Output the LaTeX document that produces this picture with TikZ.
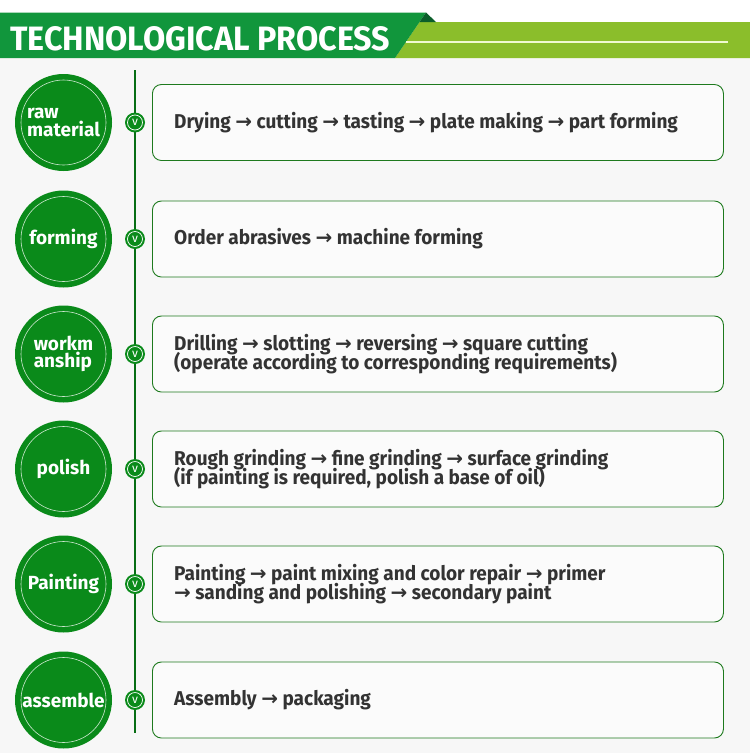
\documentclass[tikz,border=0pt]{standalone}
\usepackage{fontspec}
\setmainfont{Fira Sans}
\newfontfamily\bodyfont[FakeStretch=0.95]{Fira Sans}
\newfontfamily\arrfont{DejaVu Sans}
\newcommand\ra{{\arrfont →}}
\newcommand\tightlines{\lineskiplimit=-20pt\relax}
\definecolor{bg}{HTML}{F7F7F7}
\definecolor{darkg}{HTML}{11963C}
\definecolor{lightg}{HTML}{8BBE2B}
\definecolor{foldg}{HTML}{0B5E2A}
\definecolor{lineg}{HTML}{F0FAD0}
\definecolor{circg}{HTML}{0A8A1A}
\definecolor{boxg}{HTML}{1E7A1E}
\definecolor{txt}{HTML}{333333}
\tikzset{
  bigcirc/.style={circle, fill=circg, minimum size=97pt, inner sep=0pt},
  innerring/.style={circle, draw=white!80!circg, line width=0.6pt, minimum size=85pt, inner sep=0pt},
  lbl/.style={text=white, font=\bfseries\fontsize{19}{17.5}\selectfont\tightlines, align=left, inner sep=0pt},
  vdot/.style={circle, fill=circg, minimum size=20pt, inner sep=0pt},
  vring/.style={circle, draw=white, line width=0.7pt, minimum size=15pt, inner sep=0pt, text=white, font=\fontsize{12}{12}\selectfont},
  procbox/.style={draw=boxg, line width=0.9pt, fill=bg!50!white, rounded corners=9pt, minimum width=571pt, minimum height=76pt, inner sep=0pt},
  proctext/.style={text=txt, font=\bodyfont\bfseries\fontsize{20}{18.5}\selectfont\tightlines, align=left, inner sep=0pt, anchor=west},
  tline/.style={draw=circg!80!black, line width=1.2pt}
}
\begin{document}
\begin{tikzpicture}[x=1pt,y=-1pt]
\useasboundingbox (0,0) rectangle (750,753);
\fill[white] (0,0) rectangle (750,753);
\fill[bg] (0,58) rectangle (750,753);
% header
\fill[lightg] (419.5,22) -- (750,22) -- (750,58) -- (395,58) -- cycle;
\fill[darkg] (0,12.5) -- (426,12.5) -- (395,58) -- (0,58) -- cycle;
\fill[foldg] (426,12.5) -- (419.5,22) -- (436,22) -- cycle;
\draw[lineg, line width=2pt] (406,41.7) -- (728,41.7);
\node[anchor=base west, inner sep=0pt, text=white] (title) at (10,50)
  {\resizebox{380pt}{24pt}{\bfseries TECHNOLOGICAL PROCESS}};
% timeline
\coordinate (ttop) at (135,70);
\coordinate (tbot) at (135,733);
\draw[tline] (ttop) -- (tbot);
% rows
\foreach \n/\y/\lab/\txt in {
  1/122.5/{raw\\material}/{Drying \ra{} cutting \ra{} tasting \ra{} plate making \ra{} part forming},
  2/239/{forming}/{Order abrasives \ra{} machine forming},
  3/354/{workm\\anship}/{Drilling \ra{} slotting \ra{} reversing \ra{} square cutting\\(operate according to corresponding requirements)},
  4/469/{polish}/{Rough grinding \ra{} fine grinding \ra{} surface grinding\\(if painting is required, polish a base of oil)},
  5/584/{Painting}/{Painting \ra{} paint mixing and color repair \ra{} primer\\\ra{} sanding and polishing \ra{} secondary paint},
  6/700/{assemble}/{Assembly \ra{} packaging}}{
  \node[bigcirc] (c\n) at (63.5,\y) {};
  \node[innerring] (r\n) at (c\n) {};
  \node[lbl] (l\n) at (c\n) {\lab};
  \node[vdot] (d\n) at (135,\y) {};
  \node[vring] (v\n) at (d\n) {v};
  \node[procbox, anchor=west] (b\n) at (152,\y) {};
  \node[proctext] (t\n) at (174,\y) {\txt};
}
\end{tikzpicture}
\end{document}
